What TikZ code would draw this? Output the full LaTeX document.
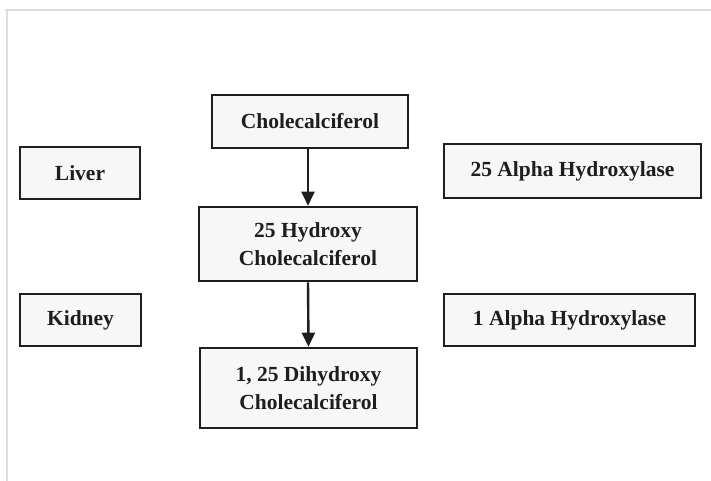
\documentclass[tikz,border=0pt]{standalone}
\usepackage{fontspec}
\setmainfont{Liberation Serif}
\usetikzlibrary{arrows.meta}
\definecolor{inkc}{HTML}{1E1E1E}
\definecolor{boxfill}{HTML}{F7F7F7}
\definecolor{framec}{HTML}{DCDCDC}
\tikzset{
  stepbox/.style={draw=inkc, line width=2.6pt, fill=boxfill, rectangle,
    align=center, text=inkc, inner sep=0pt,
    font=\fontsize{21.5}{28}\selectfont\bfseries},
  flow/.style={draw=inkc, line width=2.4pt,
    -{Triangle[length=14pt,width=13pt]}},
}
\begin{document}
\begin{tikzpicture}[x=1pt,y=-1pt]
  \useasboundingbox (0,0) rectangle (711,481);
  % faint page frame
  \draw[framec, line width=1.2pt] (5,10) -- (711,10);
  \draw[framec, line width=1.2pt] (7,10) -- (7,481);

  % metabolic chain
  \node[stepbox, minimum width=196pt, minimum height=53pt] (chol) at (310,121.5) {Cholecalciferol};
  \node[stepbox, minimum width=218pt, minimum height=74pt] (hydroxy) at (308,244) {25 Hydroxy\\Cholecalciferol};
  \node[stepbox, minimum width=217pt, minimum height=80pt] (dihydroxy) at (308.5,388) {1, 25 Dihydroxy\\Cholecalciferol};

  % organs
  \node[stepbox, minimum width=120pt, minimum height=52pt] (liver) at (80,173) {Liver};
  \node[stepbox, minimum width=121pt, minimum height=52pt] (kidney) at (80.5,320) {Kidney};

  % enzymes
  \node[stepbox, minimum width=257pt, minimum height=54pt] (enzA) at (572.5,171) {25 Alpha Hydroxylase};
  \node[stepbox, minimum width=251pt, minimum height=52pt] (enzB) at (569.5,320) {1 Alpha Hydroxylase};

  % conversions
  \draw[flow] (hydroxy.north |- chol.south) -- (hydroxy.north);
  \draw[flow] (hydroxy.south) -- (dihydroxy.north);
\end{tikzpicture}
\end{document}
